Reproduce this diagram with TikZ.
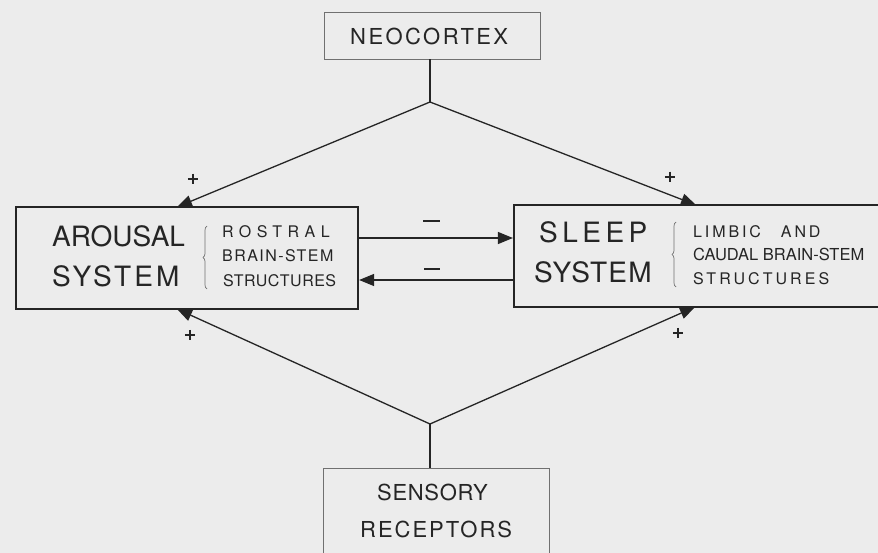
\documentclass[tikz,border=0pt]{standalone}
\usepackage{fontspec}
\setmainfont{TeX Gyre Heros}
\usetikzlibrary{arrows.meta,decorations.pathreplacing}
\definecolor{paper}{HTML}{ECECEC}
\definecolor{ink}{HTML}{252525}
\definecolor{thin}{HTML}{707070}
\newcommand\spaced[2]{{\addfontfeature{LetterSpace=#1}#2}}
\newcommand\sz[1]{\fontsize{#1}{#1}\selectfont}
\begin{document}
\begin{tikzpicture}[x=1pt,y=-1pt,
  mainbox/.style={draw=ink,line width=2.2pt,fill=paper,rectangle,inner sep=0pt},
  sidebox/.style={draw=thin,line width=0.8pt,fill=paper,rectangle,inner sep=0pt},
  conn/.style={draw=ink,line width=1.3pt},
  tip/.style={-{Triangle[length=15pt,width=12pt]}},
  lbl/.style={inner sep=0pt,anchor=base west,text=ink},
  big/.style={lbl,font=\sz{28}},
  small/.style={lbl,font=\sz{16}},
  mid/.style={lbl,font=\sz{22}},
  plussign/.style={inner sep=0pt,minimum size=10.5pt,
    path picture={\draw[ink,line width=1.3pt]
      (path picture bounding box.north) -- (path picture bounding box.south)
      (path picture bounding box.west) -- (path picture bounding box.east);}},
  curly/.style={draw=thin,line width=0.7pt,decorate,decoration={brace,amplitude=4pt}}]
% page
\fill[paper] (0,0) rectangle (878,553);
\useasboundingbox (0,0) rectangle (878,553);

% boxes
\node[sidebox,minimum width=216pt,minimum height=47pt] (neo) at (432,35.5) {};
\node[mainbox,minimum width=342pt,minimum height=102pt] (arousal) at (187,258) {};
\node[mainbox,minimum width=378pt,minimum height=102pt] (sleep) at (703,256) {};
\node[sidebox,minimum width=226pt,minimum height=97pt] (sens) at (436,516.5) {};

% texts
\node[mid] (tneo) at (350,45) {\spaced{11}{NEOCORTEX}};
\node[big] (tar1) at (52,247) {AROUSAL};
\node[big] (tar2) at (52,287) {\spaced{11}{SYSTEM}};
\node[small] (tar3) at (222,238) {\spaced{34}{ROSTRAL}};
\node[small] (tar4) at (222,262) {\spaced{9}{BRAIN-STEM}};
\node[small] (tar5) at (223,287) {\spaced{3}{STRUCTURES}};
\node[big] (tsl1) at (539,243) {\spaced{16}{SLEEP}};
\node[big] (tsl2) at (534,283) {\spaced{4}{SYSTEM}};
\node[small] (tsl3) at (693,238) {\spaced{18}{LIMBIC}\hspace{20pt}\spaced{18}{AND}};
\node[lbl,font=\sz{16.5}] (tsl4) at (693,261) {CAUDAL BRAIN-STEM};
\node[small] (tsl5) at (693,285) {\spaced{19}{STRUCTURES}};
\node[mid] (tse1) at (377,500) {\spaced{3}{SENSORY}};
\node[mid] (tse2) at (360,537) {\spaced{9}{RECEPTORS}};

% braces
\draw[curly] (207,289) -- (207,226);
\draw[curly] (676,287) -- (676,222);

% junctions and arrow ends
\coordinate (topj) at (430,102);
\coordinate (botj) at (430,424);
\coordinate (arT) at (177,207);
\coordinate (slT) at (696,205);
\coordinate (arB) at (177,309);
\coordinate (slB) at (695,307);

% neocortex to both systems
\draw[conn] (neo.south -| topj) -- (topj);
\draw[conn,tip] (topj) -- (arT);
\draw[conn,tip] (topj) -- (slT);
% sensory receptors to both systems
\draw[conn] (sens.north -| botj) -- (botj);
\draw[conn,tip] (botj) -- (arB);
\draw[conn,tip] (botj) -- (slB);
% mutual inhibition
\draw[conn,tip] (arousal.east |- 0,238) -- (sleep.west |- 0,238);
\draw[conn,tip] (sleep.west |- 0,280) -- (arousal.east |- 0,280);

% signs
\draw[ink,line width=1.2pt] (423,221) -- (440,221);
\draw[ink,line width=1.2pt] (424,269) -- (440,269);
\node[plussign] (p1) at (193,179) {};
\node[plussign] (p2) at (670,177) {};
\node[plussign] (p3) at (190,335) {};
\node[plussign] (p4) at (678,333) {};
\end{tikzpicture}
\end{document}
